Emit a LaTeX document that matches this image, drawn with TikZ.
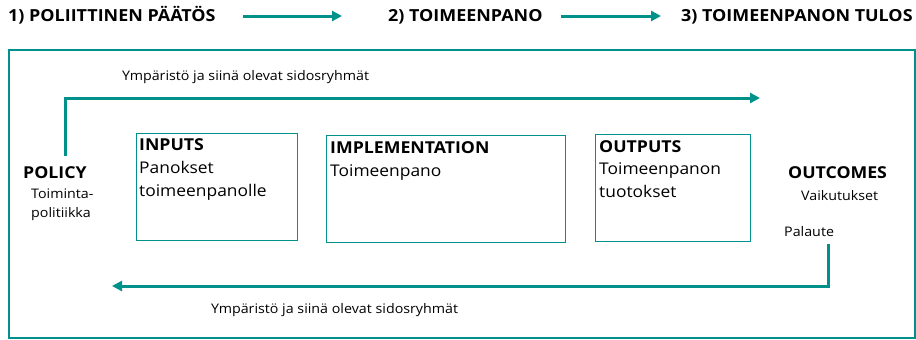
\documentclass[tikz,border=0pt]{standalone}
\usepackage{fontspec}
\setmainfont[FakeStretch=1.08]{Open Sans}
\usetikzlibrary{arrows.meta}
\definecolor{tealc}{RGB}{0,145,138}
\begin{document}
\begin{tikzpicture}[x=1pt,y=-1pt,
  title/.style={anchor=base west,inner sep=0pt,font=\fontsize{16.6}{19}\selectfont\bfseries},
  small/.style={anchor=base west,inner sep=0pt,font=\fontsize{13.2}{15}\selectfont},
  head/.style={anchor=base west,inner sep=0pt,font=\fontsize{16.4}{18}\selectfont\bfseries},
  body/.style={anchor=base west,inner sep=0pt,font=\fontsize{16.1}{18}\selectfont},
  box/.style={draw=tealc,line width=1.3pt,anchor=north west,inner sep=0pt},
  harrow/.style={draw=tealc,line width=3pt,-{Triangle[length=10pt,width=10pt]}},
  frame/.style={draw=tealc,line width=1.5pt}]
\useasboundingbox (0,0) rectangle (916,340);
% titles
\node[title] (t1) at (8,21) {1) POLIITTINEN PÄÄTÖS};
\node[title] (t2) at (388,21) {2) TOIMEENPANO};
\node[title] (t3) at (681,21) {3) TOIMEENPANON TULOS};
\coordinate (a1s) at (243,16); \coordinate (a1e) at (342,16);
\coordinate (a2s) at (561,16); \coordinate (a2e) at (661,16);
\draw[harrow] (a1s) -- (a1e);
\draw[harrow] (a2s) -- (a2e);
% frame
\node[frame,anchor=north west,minimum width=906pt,minimum height=288pt,inner sep=0pt] (fr) at (8,49) {};
% top text and arrow
\node[small] (ytop) at (122,80) {Ympäristö ja siinä olevat sidosryhmät};
\node[head] (policy) at (23,178) {POLICY};
\node[small] (pol1) at (31,198) {Toiminta-};
\node[small] (pol2) at (31,217) {politiikka};
\coordinate (topstart) at (65,156);
\coordinate (topend) at (760,98);
\draw[harrow] (topstart) |- (topend);
% boxes
\node[box,minimum width=161pt,minimum height=107pt] (inputs) at (136,133) {};
\node[box,minimum width=239pt,minimum height=107pt] (impl) at (326,135) {};
\node[box,minimum width=155pt,minimum height=107pt] (outputs) at (595,134) {};
\node[head] (inT) at (139,150) {INPUTS};
\node[body] (in1) at (139,173) {Panokset};
\node[body] (in2) at (139,196) {toimeenpanolle};
\node[head] (imT) at (330,153) {IMPLEMENTATION};
\node[body] (im1) at (330,176) {Toimeenpano};
\node[head] (ouT) at (599,152) {OUTPUTS};
\node[body] (ou1) at (599,174) {Toimeenpanon};
\node[body] (ou2) at (599,197) {tuotokset};
% outcomes
\node[head] (outc) at (788,178) {OUTCOMES};
\node[small] (vaik) at (801,200) {Vaikutukset};
\node[small] (pal) at (784,236) {Palaute};
% bottom arrow
\coordinate (botstart) at (828,244);
\coordinate (botend) at (112,286);
\draw[harrow] (botstart) |- (botend);
\node[small] (ybot) at (211,313) {Ympäristö ja siinä olevat sidosryhmät};
\end{tikzpicture}
\end{document}
